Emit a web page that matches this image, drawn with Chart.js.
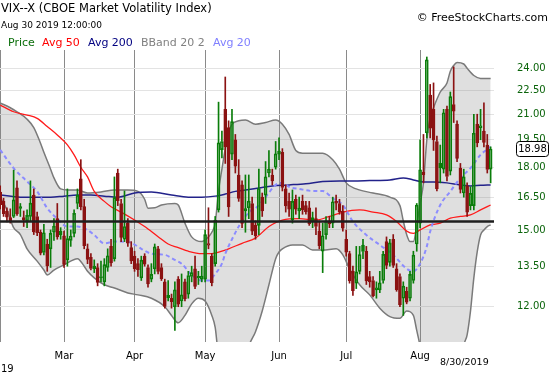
<!DOCTYPE html>
<html>
<head>
<meta charset="utf-8">
<script src="https://cdn.jsdelivr.net/npm/chart.js@4.4.0/dist/chart.umd.min.js"></script>
<style>
  body { margin: 0; background: #fff; font-family: "DejaVu Sans", Verdana, sans-serif; }
  #wrap { position: relative; width: 550px; height: 375px; overflow: hidden; }
  #vix { position: absolute; left: 0; top: 0; }
  .t { position: absolute; white-space: nowrap; line-height: 1; }
</style>
</head>
<body>
<div id="wrap">
  <canvas id="vix" width="550" height="375"></canvas>
  <div class="t" style="left:1px;top:3px;font-size:11.5px;color:#000">VIX--X (CBOE Market Volatility Index)</div>
  <div class="t" style="left:1px;top:21px;font-size:9px;color:#000">Aug 30 2019 12:00:00</div>
  <div class="t" style="left:8px;top:37px;font-size:11px;color:#0a6e0a">Price</div>
  <div class="t" style="left:42px;top:37px;font-size:11px;color:#ff0000">Avg 50</div>
  <div class="t" style="left:88px;top:37px;font-size:11px;color:#000080">Avg 200</div>
  <div class="t" style="left:141px;top:37px;font-size:11px;color:#808080">BBand 20 2</div>
  <div class="t" style="left:213px;top:37px;font-size:11px;color:#8080ff">Avg 20</div>
  <div class="t" style="right:2px;top:12px;font-size:11px;color:#000">© FreeStockCharts.com</div>
  <div class="t" style="left:1px;top:364px;font-size:10px;color:#000">19</div>
  <div class="t" style="left:440px;top:357px;font-size:9.5px;color:#000">8/30/2019</div>
</div>
<script>
// daily candles, 1 Feb - 30 Aug 2019 (x = trading day index)
const open = [16.75,16.30,15.85,15.55,15.60,16.95,16.05,15.55,15.40,15.60,16.60,15.60,14.90,14.05,14.40,14.20,14.90,15.50,14.95,
  14.75,13.75,14.55,14.85,16.20,17.40,16.05,14.20,13.85,13.40,13.45,13.05,12.90,13.45,14.30,13.80,17.70,16.20,14.60,15.30,14.25,
  13.90,13.60,13.05,13.90,13.45,13.00,13.40,14.20,13.45,12.90,12.40,12.30,12.00,13.00,12.20,12.90,12.45,13.10,13.40,13.05,13.00,
  13.00,14.35,13.90,13.60,15.90,18.95,21.30,20.20,18.70,19.50,17.60,17.10,15.85,16.00,16.20,15.20,15.20,16.50,16.60,17.70,17.60,18.00,
  18.70,18.80,16.90,16.30,15.45,16.40,15.85,16.30,16.10,16.00,15.55,15.50,14.95,14.10,14.80,15.40,15.30,16.30,16.20,15.85,
  14.60,14.00,13.30,12.85,13.30,14.35,14.10,13.10,12.95,12.60,12.60,12.95,14.50,13.65,14.60,13.40,13.10,12.30,12.55,12.30,12.95,14.40,
  15.30,17.75,19.90,22.20,21.30,19.40,18.20,17.90,21.30,17.80,21.60,20.40,17.95,16.70,17.05,16.10,16.10,20.40,20.20,20.00,19.20,17.90];
const high = [17.05,16.45,16.00,15.95,17.85,17.30,16.20,15.85,15.90,17.30,16.90,15.80,15.00,15.25,14.60,15.00,15.50,16.20,15.10,
  14.95,16.90,15.00,15.90,16.90,18.40,16.40,14.40,14.00,13.75,13.60,13.70,13.80,14.20,14.60,17.50,17.90,16.40,16.80,15.50,14.50,
  14.10,13.80,13.90,14.00,13.55,13.60,14.40,14.30,13.60,13.00,12.95,12.45,12.90,13.10,13.20,13.00,13.30,13.50,13.90,13.30,13.50,
  15.00,16.00,14.00,15.60,21.75,20.00,23.40,20.60,21.30,19.80,18.40,17.30,17.60,17.60,16.50,15.40,17.90,16.70,18.30,18.90,17.90,19.40,
  19.60,19.00,17.10,16.70,16.85,16.60,16.50,16.60,16.30,16.30,15.80,16.00,15.40,15.30,15.60,15.60,16.50,16.60,16.40,16.10,
  15.00,14.10,13.50,14.30,14.30,14.60,14.30,13.30,13.10,12.90,13.30,14.10,14.70,14.60,14.80,13.60,13.20,12.90,12.70,13.30,14.10,16.20,
  19.50,19.80,24.80,22.90,23.00,19.70,19.20,21.30,21.50,22.40,24.10,20.60,18.20,17.90,17.20,17.00,21.00,21.00,21.30,21.70,19.80,19.10];
const low = [15.95,15.60,15.35,15.30,15.55,15.65,15.60,15.15,15.10,15.40,14.80,14.75,13.95,13.95,13.30,13.45,14.55,14.60,14.60,
  13.45,13.50,14.30,14.70,15.95,15.90,14.20,13.60,13.35,13.25,12.75,12.90,12.75,13.30,13.50,13.70,16.10,14.50,14.50,14.30,13.60,
  13.30,13.10,12.95,13.50,12.70,12.90,13.20,13.20,12.95,11.95,12.20,11.95,11.20,12.00,12.00,12.20,12.30,12.90,12.65,12.80,12.90,
  12.90,14.20,12.75,13.50,15.80,18.50,18.20,15.60,18.40,17.70,16.30,15.10,14.90,15.50,14.80,14.60,14.80,15.60,16.20,17.50,17.10,17.90,
  18.40,16.80,15.80,15.60,15.30,15.70,15.50,15.70,15.70,15.20,15.10,14.80,14.20,13.25,14.60,15.10,15.10,15.90,15.70,14.95,
  13.90,12.85,12.40,12.65,13.20,13.80,12.80,12.70,12.35,12.30,12.50,12.85,13.40,13.50,13.45,12.55,12.00,11.70,12.10,12.20,12.85,14.10,
  15.10,17.20,19.60,19.60,18.90,16.80,17.20,17.70,17.30,17.60,20.50,18.30,16.70,16.50,15.60,15.90,15.90,19.10,19.50,19.10,17.70,17.20];
const close = [16.14,15.73,15.57,15.38,16.37,15.72,15.97,15.43,15.65,16.22,14.91,14.88,14.02,14.88,13.51,14.85,15.17,14.70,14.78,
  13.57,14.63,14.74,15.74,16.59,16.05,14.33,13.77,13.41,13.50,12.88,13.10,13.56,13.91,13.63,16.48,16.33,14.68,15.15,14.43,13.71,
  13.40,13.36,13.74,13.58,12.82,13.18,14.28,13.30,13.02,12.01,12.32,12.18,12.60,12.09,12.42,12.28,13.14,13.25,12.73,13.11,13.12,
  14.80,14.42,12.87,15.44,19.32,19.40,19.10,16.04,20.55,18.06,16.44,15.29,15.96,16.31,14.95,14.75,16.92,15.85,17.50,17.90,17.30,18.71,
  18.86,16.97,16.09,15.93,16.30,15.94,15.99,15.91,15.82,15.28,15.35,15.15,14.33,14.75,15.40,15.26,16.28,16.21,15.82,15.08,
  14.06,12.93,12.57,13.28,13.96,14.09,12.93,12.90,12.39,12.68,12.86,13.97,13.53,14.45,13.53,12.61,12.07,12.74,12.16,13.18,13.94,16.12,
  17.87,17.61,24.59,20.17,19.49,16.91,17.97,21.09,17.52,22.10,21.18,18.47,16.88,17.50,15.80,16.68,19.87,19.32,20.31,19.35,17.88,18.98];

// indicator lines: [day index, value]
const avg50 = [[0,21.57],[4,21.15],[8,20.95],[11,20.75],[14,20.26],[17,19.77],[20,19.21],[22,18.66],[24,18.0],[26,17.5],
  [28,16.78],[31,16.3],[33,16.05],[36,15.8],[40,15.44],[43,15.15],[47,14.71],[50,14.4],[53,14.25],[56,14.1],[60,14.0],
  [63,14.0],[66,14.1],[68,14.2],[72,14.43],[76,14.65],[80,15.15],[84,15.44],[89,15.5],[94,15.44],[98,15.6],[102,15.8],
  [107,15.9],[111,15.8],[115,15.67],[118,15.37],[121,14.95],[123,14.85],[125,15.0],[128,15.22],[131,15.3],[134,15.52],
  [137,15.6],[140,15.67],[143,15.9],[146,16.13]];
const avg200 = [[0,16.61],[6,16.5],[10,16.5],[15,16.5],[19,16.55],[23,16.6],[27,16.6],[31,16.55],[35,16.5],[40,16.7],
  [45,16.75],[51,16.6],[56,16.5],[60,16.5],[64,16.55],[67,16.65],[70,16.78],[73,16.85],[77,16.95],[81,17.05],[86,17.1],
  [91,17.16],[96,17.27],[101,17.3],[105,17.3],[110,17.32],[116,17.35],[120,17.45],[123,17.35],[126,17.25],[129,17.25],
  [133,17.2],[137,17.1],[140,17.05],[143,17.08],[146,17.1]];
const avg20 = [[0,18.93],[4,17.95],[8,17.27],[11,16.78],[14,15.98],[17,15.5],[20,15.15],[23,15.15],[26,15.0],[28,14.78],
  [31,14.43],[34,14.5],[36,14.5],[39,14.45],[42,14.2],[45,14.0],[49,13.95],[52,13.75],[54,13.6],[57,13.16],[60,12.95],
  [62,12.95],[64,13.2],[66,13.6],[67,14.0],[69,14.6],[71,15.15],[73,15.6],[75,15.9],[76,15.98],[79,16.5],[82,17.1],
  [84,17.2],[86,17.0],[89,16.9],[93,16.8],[96,16.8],[99,16.45],[102,16.13],[105,15.37],[109,14.78],[113,14.36],
  [117,13.95],[121,13.4],[123,13.3],[125,13.6],[127,14.3],[128,14.93],[131,16.13],[134,16.78],[137,17.45],[140,17.95],
  [143,18.66],[146,19.1]];
const bbUpper = [[0,21.7],[3,21.4],[5,21.15],[8,20.7],[10,20.2],[12,19.3],[13,18.8],[15,17.9],[16,17.45],[18,16.9],
  [20,16.85],[23,16.85],[26,16.7],[30,16.75],[34,16.85],[38,16.85],[41,16.78],[43,16.4],[44,15.98],[46,16.0],[48,16.13],
  [52,16.2],[53,16.13],[55,15.3],[57,14.7],[60,14.5],[62,14.7],[63,14.9],[64,15.3],[65,16.8],[66,17.9],[67,19.0],
  [68,19.9],[69,20.4],[71,20.6],[73,20.65],[76,20.4],[79,20.5],[82,20.65],[84,20.4],[86,19.8],[88,18.9],[90,18.75],
  [96,18.75],[99,18.4],[101,17.9],[103,17.2],[106,16.9],[111,16.7],[116,16.5],[119,16.1],[120,15.4],[121,14.8],
  [122,14.5],[123,14.5],[124,15.2],[125,16.2],[126,17.2],[127,19.5],[128,20.8],[129,21.4],[131,22.4],[133,23.0],
  [134,23.8],[135,24.2],[136,24.4],[138,24.3],[139,24.0],[141,23.5],[143,23.3],[146,23.3]];
const bbLower = [[0,16.5],[2,15.9],[4,15.1],[6,14.8],[8,14.2],[11,13.7],[13,13.35],[14,13.16],[16,13.35],[19,13.55],
  [23,13.8],[25,13.5],[26,13.3],[28,13.05],[31,12.79],[34,12.67],[38,12.49],[41,12.42],[45,12.3],[49,12.0],[51,11.7],
  [53,11.45],[55,11.7],[57,12.1],[59,12.3],[61,12.2],[63,11.7],[64,11.3],[65,10.4],[67,10.0],[70,9.8],[73,10.3],
  [74,10.7],[76,11.16],[78,11.85],[80,12.79],[82,13.8],[83,14.07],[84,14.2],[87,14.36],[90,14.36],[93,14.15],
  [96,14.15],[100,14.2],[102,13.95],[104,13.4],[107,12.79],[110,12.42],[113,11.95],[116,11.66],[119,11.6],[121,11.85],
  [123,11.7],[124,11.2],[125,10.7],[127,9.5],[130,8.5],[134,8.5],[137,9.8],[138,10.7],[139,11.06],[140,11.85],
  [141,13.05],[142,14.07],[143,14.78],[144,15.0],[145,15.15],[146,15.22]];
const supportLevel = 15.37;

// axes
const yTicks = [12, 13.5, 15, 16.5, 18, 19.5, 21, 22.5, 24];
const monthStart = [0, 19, 40, 61, 83, 103, 125];
const monthNames = ['', 'Mar', 'Apr', 'May', 'Jun', 'Jul', 'Aug'];
const X_MIN = -0.06, X_MAX = 147;
const GREEN = '#0a7d0a', RED = '#8b1212';

const pts = arr => arr.map(p => ({ x: p[0], y: p[1] }));
const isUp = i => close[i] >= (i > 0 ? close[i - 1] : open[i]);
const candleColor = c => (isUp(c.dataIndex) ? GREEN : RED);

const bodies = close.map((c, i) => ({ x: i, y: [open[i], c] }));
const wickTop = close.map((c, i) => ({ x: i, y: [Math.max(open[i], c), high[i]] }));
const wickBottom = close.map((c, i) => ({ x: i, y: [low[i], Math.min(open[i], c)] }));

const lineBase = { type: 'line', pointRadius: 0, cubicInterpolationMode: 'monotone', fill: false };

// price tag on the right axis
const lastPriceTag = {
  id: 'lastPriceTag',
  afterDraw(chart) {
    const y = chart.scales.y.getPixelForValue(close[close.length - 1]);
    const ctx = chart.ctx;
    ctx.save();
    ctx.beginPath();
    ctx.roundRect(516.5, Math.round(y) - 7.5, 32, 15, 3);
    ctx.fillStyle = '#fff';
    ctx.fill();
    ctx.strokeStyle = '#000';
    ctx.lineWidth = 1;
    ctx.stroke();
    ctx.fillStyle = '#000';
    ctx.font = '10px "DejaVu Sans"';
    ctx.textAlign = 'center';
    ctx.textBaseline = 'middle';
    ctx.fillText(close[close.length - 1].toFixed(2), 532.5, Math.round(y) + 0.5);
    ctx.restore();
  }
};

new Chart(document.getElementById('vix'), {
  type: 'bar',
  data: {
    datasets: [
      { ...lineBase, data: pts(bbUpper), borderColor: '#7a7a7a', borderWidth: 1.5,
        fill: { target: 1 }, backgroundColor: 'rgba(130,130,130,0.26)', order: 8 },
      { ...lineBase, data: pts(bbLower), borderColor: '#7a7a7a', borderWidth: 1.5, order: 7 },
      { ...lineBase, data: pts(avg200), borderColor: '#22228a', borderWidth: 1.5, order: 6 },
      { ...lineBase, data: pts(avg50), borderColor: '#ff1a1a', borderWidth: 1.3, order: 5 },
      { ...lineBase, data: pts(avg20), borderColor: '#8c8cff', borderWidth: 2, borderDash: [4, 3], order: 4 },
      { type: 'bar', data: wickTop, barThickness: 1, grouped: false, backgroundColor: candleColor, order: 3 },
      { type: 'bar', data: wickBottom, barThickness: 1, grouped: false, backgroundColor: candleColor, order: 2 },
      { type: 'bar', data: bodies, barThickness: 3, grouped: false, borderSkipped: false, borderWidth: 1,
        borderColor: candleColor,
        backgroundColor: c => (close[c.dataIndex] < open[c.dataIndex] ? candleColor(c) : 'rgba(0,0,0,0)'),
        order: 1 },
      { ...lineBase, cubicInterpolationMode: 'default', data: [{ x: X_MIN, y: supportLevel }, { x: X_MAX, y: supportLevel }],
        borderColor: '#1e1e1e', borderWidth: 2.5, order: 0 }
    ]
  },
  options: {
    responsive: false,
    animation: false,
    devicePixelRatio: 1,
    events: [],
    layout: { padding: { top: 50, left: 0, right: 0, bottom: 0 } },
    plugins: { legend: { display: false }, tooltip: { enabled: false } },
    scales: {
      x: {
        type: 'linear', position: 'bottom', min: X_MIN, max: X_MAX, offset: false,
        afterBuildTicks: s => { s.ticks = monthStart.map(v => ({ value: v })); },
        afterFit: s => { s.height = 33; },
        grid: { color: '#8a8a8a', offset: false, drawTicks: true, tickLength: 8, tickColor: 'rgba(0,0,0,0)' },
        border: { display: false },
        ticks: {
          autoSkip: false, maxRotation: 0, padding: 0, color: '#000',
          font: { family: '"DejaVu Sans"', size: 10 },
          callback: (v, i) => monthNames[i]
        }
      },
      y: {
        type: 'logarithmic', position: 'right', min: 10.83, max: 25.31,
        afterBuildTicks: s => { s.ticks = yTicks.map(v => ({ value: v })); },
        afterFit: s => { s.width = 56; },
        grid: { color: '#e3e3e3', drawTicks: false },
        border: { display: false },
        ticks: {
          padding: 23, color: '#0b640b',
          font: { family: '"DejaVu Sans"', size: 10 },
          callback: v => Number(v).toFixed(2)
        }
      }
    }
  },
  plugins: [lastPriceTag]
});
</script>
</body>
</html>
